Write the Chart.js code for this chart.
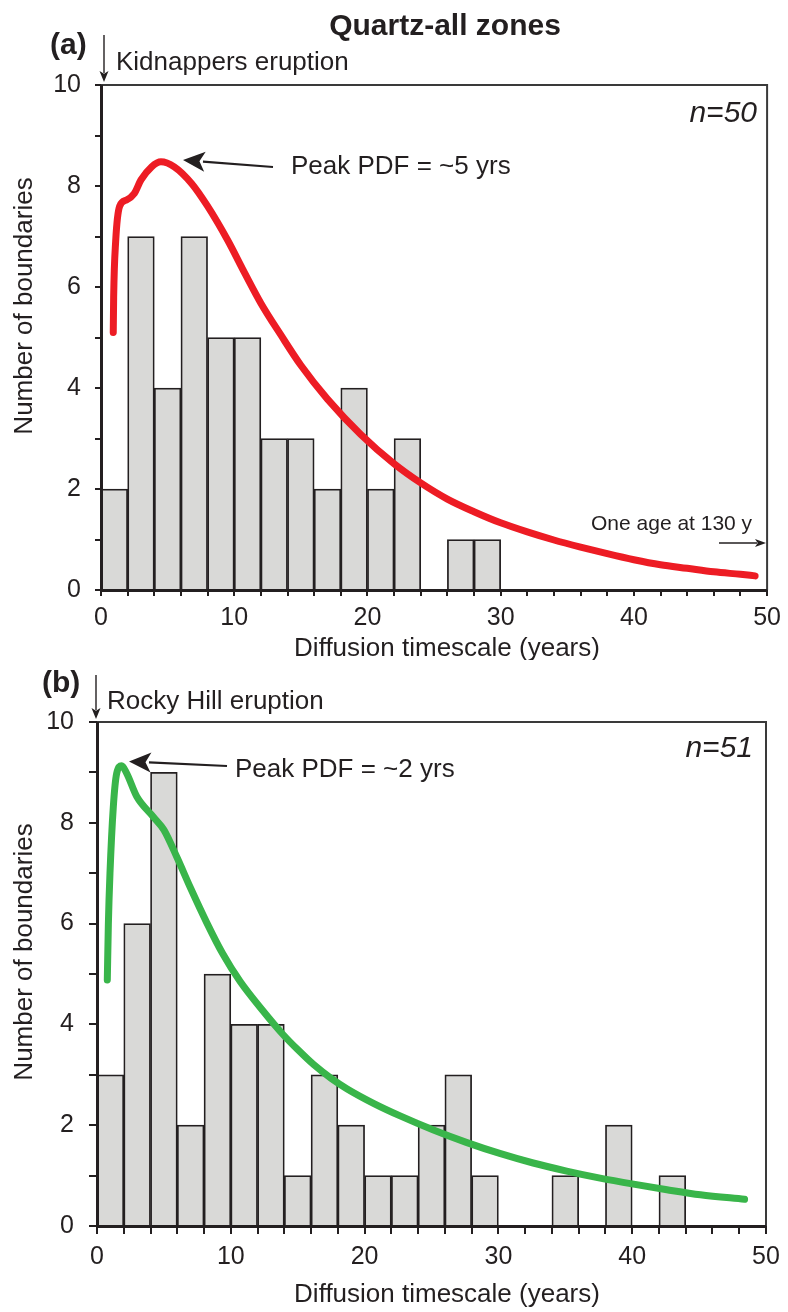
<!DOCTYPE html>
<html>
<head>
<meta charset="utf-8">
<title>Quartz-all zones</title>
<script src="https://cdn.jsdelivr.net/npm/chart.js@4.4.1/dist/chart.umd.min.js"></script>
<style>
  html, body { margin: 0; padding: 0; background: #fff; }
  #wrap { position: relative; width: 788px; height: 1312px; }
  canvas { position: absolute; left: 0; }
  #chartA { top: 0; }
  #chartB { top: 660px; }
</style>
</head>
<body>
<div id="wrap">
  <canvas id="chartA" width="788" height="660"></canvas>
  <canvas id="chartB" width="788" height="652"></canvas>
</div>
<script>
'use strict';

// (a) Kidnappers - histogram, 2 year bins
const binCentersA = [1, 3, 5, 7, 9, 11, 13, 15, 17, 19, 21, 23, 25, 27, 29];
const countsA     = [2, 7, 4, 7, 5, 5, 3, 3, 2, 4, 2, 3, 0, 1, 1];

// (a) PDF curve (red)
const pdfYearsA  = [0.92, 0.95, 1.1, 1.4, 1.9, 2.5, 3.0, 3.8, 4.5, 5.5, 6.8, 8.0, 9.5, 10.8, 12.0, 13.5, 15.0, 17.0, 19.5, 22.0, 24.0, 26.0, 28.0, 30.0, 32.0, 34.0, 36.0, 38.0, 40.0, 42.0, 44.0, 46.0, 48.0, 49.1];
const pdfValuesA = [5.1, 5.8, 6.9, 7.6, 7.72, 7.85, 8.12, 8.38, 8.48, 8.38, 8.05, 7.6, 6.93, 6.27, 5.68, 5.05, 4.45, 3.78, 3.08, 2.5, 2.12, 1.8, 1.55, 1.33, 1.15, 0.99, 0.85, 0.72, 0.6, 0.5, 0.43, 0.36, 0.31, 0.28];

// (b) Rocky Hill - histogram, 2 year bins
const binCentersB = [1, 3, 5, 7, 9, 11, 13, 15, 17, 19, 21, 23, 25, 27, 29, 31, 33, 35, 37, 39, 41, 43];
const countsB     = [3, 6, 9, 2, 5, 4, 4, 1, 3, 2, 1, 1, 2, 3, 1, 0, 0, 1, 0, 2, 0, 1];

// (b) PDF curve (green)
const pdfYearsB  = [0.77, 0.85, 0.97, 1.22, 1.47, 1.84, 2.22, 2.97, 4.2, 5.0, 6.0, 7.0, 8.2, 9.4, 10.7, 12.4, 13.9, 15.0, 16.2, 17.5, 18.7, 20.7, 22.7, 25.1, 27.6, 30.1, 32.6, 35.1, 37.6, 40.1, 42.6, 45.1, 48.4];
const pdfValuesB = [4.88, 6.0, 7.0, 8.32, 8.98, 9.13, 8.98, 8.52, 8.12, 7.86, 7.3, 6.7, 6.02, 5.4, 4.85, 4.27, 3.8, 3.5, 3.2, 2.93, 2.72, 2.43, 2.18, 1.91, 1.66, 1.44, 1.25, 1.09, 0.95, 0.83, 0.72, 0.62, 0.53];

// labelled ticks (the other ticks are unlabelled minor marks)
const xTickLabels = [0, 10, 20, 30, 40, 50];
const yTickLabels = [0, 2, 4, 6, 8, 10];

const FONT = "'Liberation Sans', Arial, Helvetica, sans-serif";
const INK = '#231f20';

Chart.defaults.font.family = FONT;
Chart.defaults.color = INK;

function toPoints(xs, ys){
    return xs.map((x, i) => ({x: x, y: ys[i]}));
}

function drawArrow(ctx, x1, y1, x2, y2, headLen, headHalf, width){
    const ang = Math.atan2(y2 - y1, x2 - x1);
    const cos = Math.cos(ang), sin = Math.sin(ang);
    const bx = x2 - headLen * cos, by = y2 - headLen * sin;
    ctx.strokeStyle = INK;
    ctx.fillStyle = INK;
    ctx.lineWidth = width;
    ctx.beginPath();
    ctx.moveTo(x1, y1);
    ctx.lineTo(bx + 2 * cos, by + 2 * sin);
    ctx.stroke();
    // head with a small notch at the back
    ctx.beginPath();
    ctx.moveTo(x2, y2);
    ctx.lineTo(bx - headHalf * sin, by + headHalf * cos);
    ctx.lineTo(bx + headLen * 0.25 * cos, by + headLen * 0.25 * sin);
    ctx.lineTo(bx + headHalf * sin, by - headHalf * cos);
    ctx.closePath();
    ctx.fill();
}

function drawText(ctx, txt, x, y, font, align){
    ctx.font = font;
    ctx.fillStyle = INK;
    ctx.textAlign = align || 'left';
    ctx.textBaseline = 'alphabetic';
    ctx.fillText(txt, x, y);
}

// frame, axis titles and the text notes, drawn on top of the bars
const notesPlugin = {
    id: 'notes',
    afterDatasetsDraw(chart){
        const ctx = chart.ctx;
        const a = chart.chartArea;
        const n = chart.options.plugins.notes;
        ctx.save();

        // thin top / right frame
        ctx.strokeStyle = '#3a3a3a';
        ctx.lineWidth = 2;
        ctx.beginPath();
        ctx.moveTo(a.left, a.top);
        ctx.lineTo(a.right, a.top);
        ctx.lineTo(a.right, a.bottom);
        ctx.stroke();
        // heavy left / bottom axes
        ctx.strokeStyle = INK;
        ctx.lineWidth = 3;
        ctx.beginPath();
        ctx.moveTo(a.left + 0.5, a.top);
        ctx.lineTo(a.left + 0.5, a.bottom + 0.5);
        ctx.lineTo(a.right, a.bottom + 0.5);
        ctx.stroke();

        // axis titles
        drawText(ctx, 'Diffusion timescale (years)', n.xTitle[0], n.xTitle[1], '26px ' + FONT, 'center');
        ctx.save();
        ctx.translate(n.yTitle[0], n.yTitle[1]);
        ctx.rotate(-Math.PI / 2);
        ctx.font = '26px ' + FONT;
        ctx.textAlign = 'center';
        ctx.textBaseline = 'middle';
        ctx.fillText('Number of boundaries', 0, 0);
        ctx.restore();

        if(n.title){
            drawText(ctx, n.title[0], n.title[1], n.title[2], 'bold 30px ' + FONT, 'center');
        }
        drawText(ctx, n.panel[0], n.panel[1], n.panel[2], 'bold 30px ' + FONT);
        drawText(ctx, n.eruption[0], n.eruption[1], n.eruption[2], '26px ' + FONT);
        drawText(ctx, n.count[0], n.count[1], n.count[2], 'italic 30px ' + FONT, 'right');
        drawText(ctx, n.peak[0], n.peak[1], n.peak[2], '26px ' + FONT);

        // eruption arrow, pointing down at year 0
        const ex = chart.scales.x.getPixelForValue(0) + n.eruptionArrow[0];
        drawArrow(ctx, ex, n.eruptionArrow[1], ex, a.top - 3, 11, 4.5, 1.4);
        // peak arrow
        const pa = n.peakArrow;
        drawArrow(ctx, pa[0], pa[1], pa[2], pa[3], 22, 10, 2.2);

        if(n.outlier){
            drawText(ctx, n.outlier[0], n.outlier[1], n.outlier[2], '21px ' + FONT);
            const oa = n.outlierArrow;
            drawArrow(ctx, oa[0], oa[1], oa[2], oa[1], 11, 4, 1.4);
        }
        ctx.restore();
    }
};

function makeChart(canvasId, centers, counts, years, values, lineColor, layout, notes){
    const ctx = document.getElementById(canvasId).getContext('2d');
    return new Chart(ctx, {
        type: 'bar',
        data: {
            datasets: [{
                type: 'line',
                data: toPoints(years, values),
                borderColor: lineColor,
                borderWidth: 7,
                borderCapStyle: 'round',
                borderJoinStyle: 'round',
                pointRadius: 0,
                cubicInterpolationMode: 'monotone',
                order: 0
            }, {
                type: 'bar',
                data: toPoints(centers, counts),
                backgroundColor: '#d9d9d7',
                borderColor: INK,
                borderWidth: 1.75,
                barPercentage: 1,
                categoryPercentage: 1,
                order: 1
            }]
        },
        options: {
            responsive: false,
            animation: false,
            events: [],
            layout: {padding: {top: layout.top, right: layout.right, left: 0, bottom: 0}},
            plugins: {
                legend: {display: false},
                tooltip: {enabled: false},
                notes: notes
            },
            scales: {
                x: {
                    type: 'linear',
                    min: 0,
                    max: 50,
                    offset: false,
                    grid: {
                        offset: false,
                        drawOnChartArea: false,
                        color: INK,
                        lineWidth: 2,
                        tickLength: layout.tick
                    },
                    border: {display: false},
                    ticks: {
                        stepSize: 2,
                        autoSkip: false,
                        maxRotation: 0,
                        padding: layout.xPad,
                        font: {size: 25},
                        color: INK,
                        callback: v => xTickLabels.includes(v) ? String(v) : ''
                    },
                    afterFit: s => { s.height = layout.xHeight; }
                },
                y: {
                    min: 0,
                    max: 10,
                    grid: {
                        drawOnChartArea: false,
                        color: INK,
                        lineWidth: 2,
                        tickLength: layout.tick
                    },
                    border: {display: false},
                    ticks: {
                        stepSize: 1,
                        autoSkip: false,
                        padding: layout.yPad,
                        font: {size: 25},
                        color: INK,
                        callback: v => yTickLabels.includes(v) ? String(v) : ''
                    },
                    afterFit: s => { s.width = layout.yWidth; }
                }
            }
        },
        plugins: [notesPlugin]
    });
}

// top panel
makeChart('chartA', binCentersA, countsA, pdfYearsA, pdfValuesA, '#ed1c24',
    {top: 85, right: 19, yWidth: 101, xHeight: 70, tick: 6, xPad: 7, yPad: 14},
    {
        title: ['Quartz-all zones', 445, 35],
        panel: ['(a)', 50, 54],
        eruption: ['Kidnappers eruption', 116, 70],
        eruptionArrow: [3, 35],
        count: ['n=50', 757, 122],
        peak: ['Peak PDF = ~5 yrs', 291, 174],
        peakArrow: [273, 167, 183, 160],
        outlier: ['One age at 130 y', 591, 530],
        outlierArrow: [719, 543, 766],
        xTitle: [447, 656],
        yTitle: [25, 306]
    });

// bottom panel
makeChart('chartB', binCentersB, countsB, pdfYearsB, pdfValuesB, '#39b54a',
    {top: 62, right: 22, yWidth: 97, xHeight: 86, tick: 8, xPad: 8, yPad: 15},
    {
        panel: ['(b)', 42, 32],
        eruption: ['Rocky Hill eruption', 107, 49],
        eruptionArrow: [-1, 15],
        count: ['n=51', 753, 97],
        peak: ['Peak PDF = ~2 yrs', 235, 117],
        peakArrow: [227, 106, 129, 101.5],
        xTitle: [447, 642],
        yTitle: [25, 292]
    });
</script>
</body>
</html>
